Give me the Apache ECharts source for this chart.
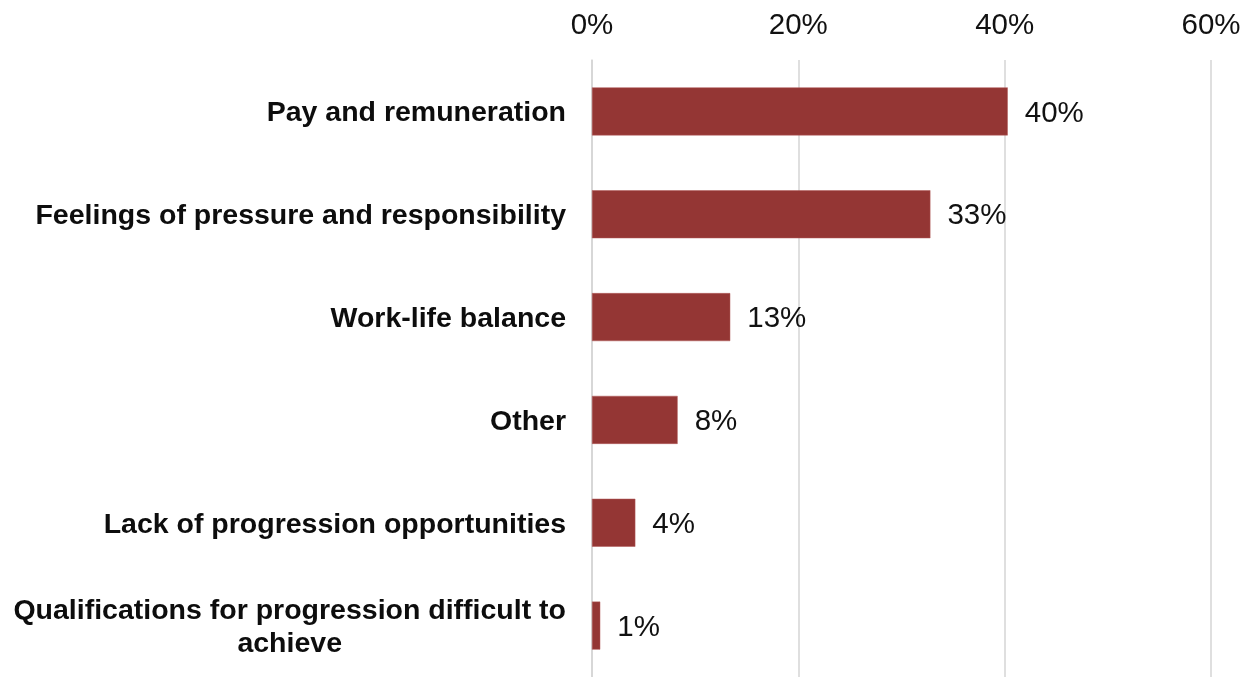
<!DOCTYPE html>
<html>
<head>
<meta charset="utf-8">
<title>Reasons</title>
<script src="https://cdn.jsdelivr.net/npm/echarts@6/dist/echarts.min.js"></script>
<style>
  html, body { margin: 0; padding: 0; background: #ffffff; }
  #chart { width: 1252px; height: 677px; }
</style>
</head>
<body>
<div id="chart"></div>
<script>
// Categories, top to bottom
const categories = [
  'Pay and remuneration',
  'Feelings of pressure and responsibility',
  'Work-life balance',
  'Other',
  'Lack of progression opportunities',
  'Qualifications for progression difficult to\nachieve'
];
// Share of respondents (%)
const shares = [40.3, 32.8, 13.4, 8.3, 4.2, 0.8];
// Axis range and step (%)
const axisMax = 60;
const axisStep = 20;

const FONT = '"Liberation Sans", Arial, sans-serif';

const chart = echarts.init(document.getElementById('chart'), null, { renderer: 'canvas' });

// Centre each wrapped line of a category label under the others
function categoryLabel(value) {
  return value.split('\n').map(function (line) { return '{c|' + line + '}'; }).join('\n');
}

chart.setOption({
  animation: false,
  backgroundColor: '#ffffff',
  grid: { left: 592, right: 41, top: 60, height: 621 },
  xAxis: {
    type: 'value',
    position: 'top',
    min: 0,
    max: axisMax,
    interval: axisStep,
    axisLine: { show: false },
    axisTick: { show: false },
    axisLabel: {
      margin: 19,
      formatter: '{value}%',
      fontFamily: FONT,
      fontSize: 29.5,
      color: '#111111'
    },
    splitLine: { show: true, lineStyle: { color: '#d4d4d4', width: 1.5 } }
  },
  yAxis: {
    type: 'category',
    inverse: true,
    data: categories,
    axisLine: { show: true, lineStyle: { color: '#d4d4d4', width: 1.5 } },
    axisTick: { show: false },
    axisLabel: {
      margin: 26,
      padding: [4, 0, 0, 0],
      formatter: categoryLabel,
      rich: {
        c: {
          align: 'center',
          fontFamily: FONT,
          fontWeight: 'bold',
          fontSize: 28.5,
          lineHeight: 33,
          color: '#0d0d0d'
        }
      }
    }
  },
  series: [{
    type: 'bar',
    data: shares,
    barWidth: 48,
    itemStyle: { color: '#943634', borderColor: '#b05a58', borderWidth: 0.5 },
    label: {
      show: true,
      position: 'right',
      distance: 17,
      offset: [0, 2],
      formatter: function (p) { return Math.round(p.value) + '%'; },
      fontFamily: FONT,
      fontSize: 29.5,
      color: '#111111'
    }
  }]
});
</script>
</body>
</html>
